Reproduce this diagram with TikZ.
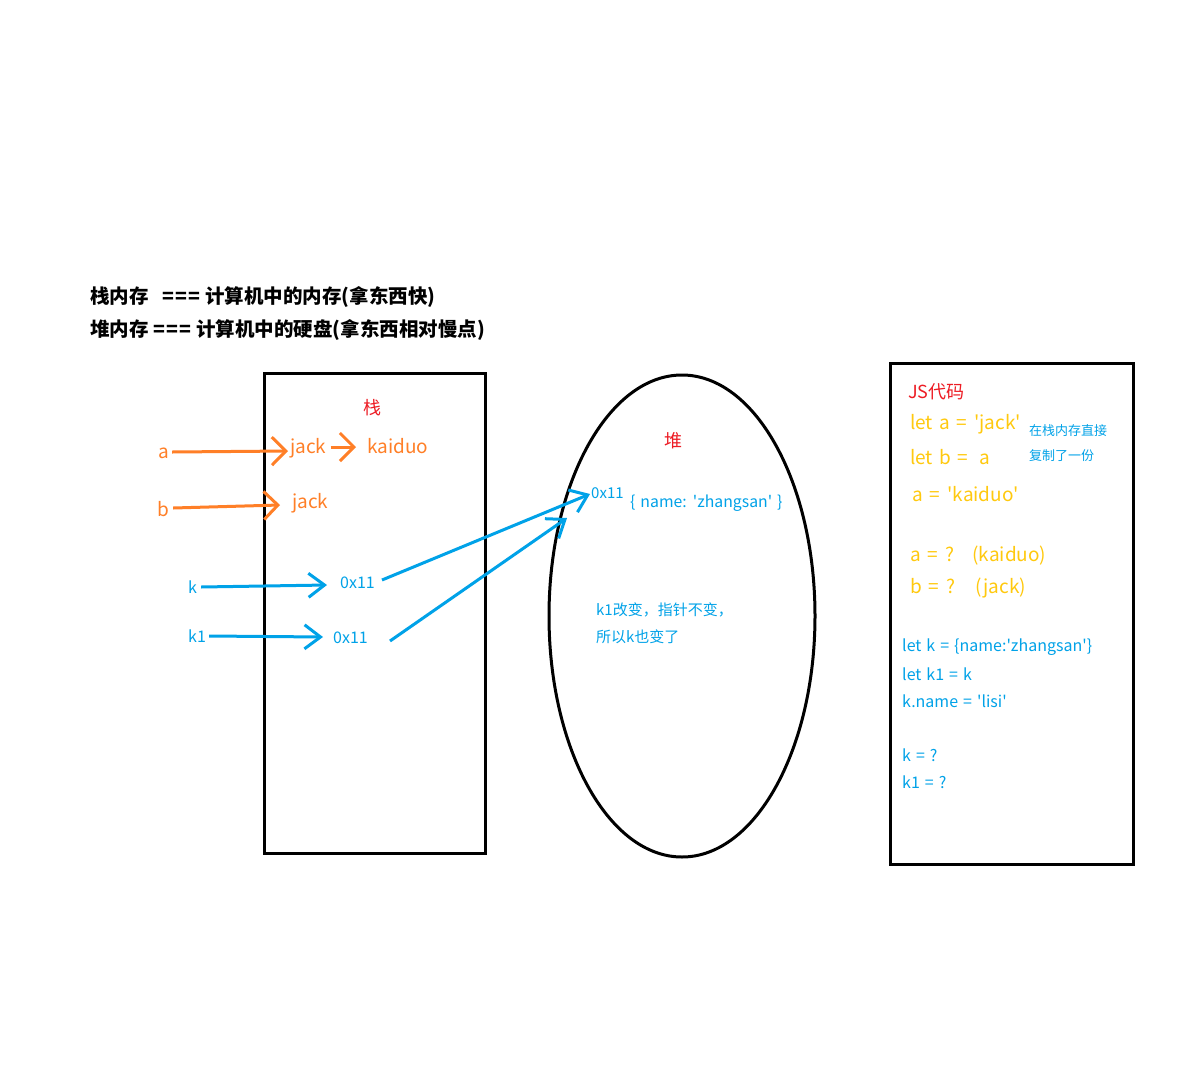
\documentclass[tikz,border=0pt]{standalone}
\usepackage{fontspec}
\setmainfont{Noto Sans CJK SC}[WordSpace=1.4]
\usetikzlibrary{arrows.meta,shapes.geometric}
\definecolor{cor}{HTML}{FF7F27}
\definecolor{cbl}{HTML}{00A2E8}
\definecolor{crd}{HTML}{ED1C24}
\definecolor{cyl}{HTML}{FFC90E}
\newcommand\qq{\textquotesingle}
\newcommand\eqs{\hspace{7pt}=\hspace{7pt}}
\tikzset{
  box/.style={draw=black,line width=3pt},
  txt/.style={inner sep=0pt,anchor=west},
  ortxt/.style={txt,text=cor,font=\fontsize{19}{21}\selectfont},
  bltxt/.style={txt,text=cbl,font=\fontsize{16}{18}\selectfont},
  yltxt/.style={txt,text=cyl,font=\fontsize{19}{21}\selectfont},
  oarr/.style={draw=cor,line width=3pt,-{Straight Barb[length=14pt,width=28pt,line width=3pt]}},
  barr/.style={draw=cbl,line width=3pt,-{Straight Barb[length=16pt,width=24pt,line width=3pt]}},
}
\begin{document}
\begin{tikzpicture}[x=1pt,y=-1pt]
\useasboundingbox (0,0) rectangle (1200,1090);
\fill[white] (0,0) rectangle (1200,1090);
% titles
\node[txt,font=\bfseries\fontsize{19.5}{21}\selectfont] (t1) at (90,297) {栈内存\hspace{14pt}=\hspace{1pt}=\hspace{1pt}=\hspace{5pt}计算机中的内存(拿东西快)};
\node[txt,font=\bfseries\fontsize{19.5}{21}\selectfont] (t2) at (90,330) {堆内存\hspace{5pt}=\hspace{1pt}=\hspace{1pt}=\hspace{5pt}计算机中的硬盘(拿东西相对慢点)};
% shapes
\node[box,minimum width=221pt,minimum height=480pt,inner sep=0pt] (stack) at (374.5,613) {};
\node[box,ellipse,minimum width=266pt,minimum height=482pt,inner sep=0pt] (heap) at (682,616) {};
\node[box,minimum width=243pt,minimum height=501pt,inner sep=0pt] (js) at (1011.5,613.5) {};
% stack labels
\node[txt,text=crd,font=\fontsize{18}{20}\selectfont] (zh) at (363,408) {栈};
\node[txt,text=crd,font=\fontsize{18}{20}\selectfont] (dui) at (664,441) {堆};
% orange
\node[ortxt] (a) at (158,453) {a};
\node[ortxt] (b) at (157,509) {b};
\node[ortxt] (jack1) at (290,448) {jack};
\node[ortxt] (kaiduo) at (367,446) {kaiduo};
\node[ortxt] (jack2) at (292,503) {jack};
\draw[oarr] (a.east) ++(3,-1) -- (288,451);
\draw[oarr] (jack1.east)++(4,-1) -- (356,447);
\draw[oarr] (b.east)++(4,-1) -- (280,505);
% blue
\node[bltxt] (k) at (188,587) {k};
\node[bltxt] (k1) at (188,636) {k1};
\node[bltxt] (p1) at (340,583) {0x11};
\node[bltxt] (p2) at (333,638) {0x11};
\node[bltxt,font=\fontsize{15}{17}\selectfont] (hp) at (591,493) {0x11};
\node[bltxt,font=\fontsize{15.8}{17}\selectfont] (obj) at (630,503) {\{ name: \qq zhangsan\qq\ \}};
\draw[barr] (k.east) ++(4,0) -- (327,585);
\draw[barr] (k1.east) ++(3,0) -- (323,637);
\draw[barr] (p1.east) ++(7,-3) -- (590,494);
\draw[barr] (p2.east) ++(22,3) -- (567,518);
\node[bltxt,font=\fontsize{15}{17}\selectfont] (note1) at (596,610) {k1改变，指针不变，};
\node[bltxt,font=\fontsize{15}{17}\selectfont] (note2) at (596,637) {所以k也变了};
% JS code
\node[txt,text=crd,font=\fontsize{18}{20}\selectfont] (jst) at (908,392) {JS代码};
\node[yltxt] (l1) at (910,424) {let a\eqs\qq jack\qq};
\node[yltxt] (l2) at (910,457) {let b\eqs\hspace{4pt}a};
\node[yltxt] (l3) at (912,494) {a\eqs\qq kaiduo\qq};
\node[bltxt,font=\fontsize{13}{15}\selectfont] (c1) at (1029,431) {在栈内存直接};
\node[bltxt,font=\fontsize{13}{15}\selectfont] (c2) at (1029,456) {复制了一份};
\node[yltxt] (l4) at (910,556) {a\eqs?\hspace{18pt}(kaiduo)};
\node[yltxt] (l5) at (910,588) {b\eqs?\hspace{20pt}(jack)};
\node[bltxt] (m1) at (902,647) {let k = \{name:\qq zhangsan\qq\}};
\node[bltxt] (m2) at (902,674) {let k1 = k};
\node[bltxt] (m3) at (902,701) {k.name = \qq lisi\qq};
\node[bltxt] (m4) at (902,755) {k = ?};
\node[bltxt] (m5) at (902,782) {k1 = ?};
\end{tikzpicture}
\end{document}
